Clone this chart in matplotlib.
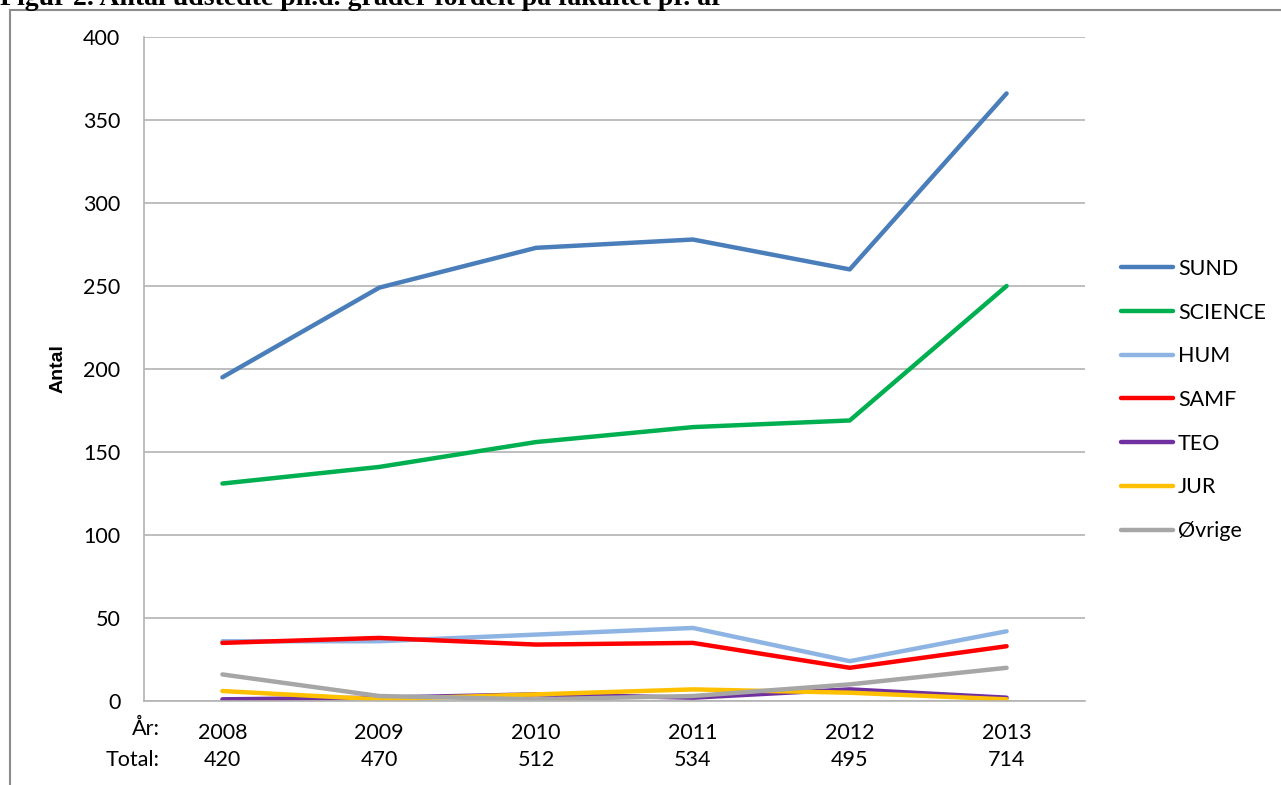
import matplotlib
matplotlib.use("Agg")
import matplotlib.pyplot as plt
from matplotlib.patches import Rectangle
import matplotlib.transforms as mtransforms

years = ["2008", "2009", "2010", "2011", "2012", "2013"]
totals = ["420", "470", "512", "534", "495", "714"]
series_names = ["SUND", "SCIENCE", "HUM", "SAMF", "TEO", "JUR", "Øvrige"]
sund = [195, 249, 273, 278, 260, 366]
science = [131, 141, 156, 165, 169, 250]
hum = [36, 36, 40, 44, 24, 42]
samf = [35, 38, 34, 35, 20, 33]
teo = [1, 2, 4, 2, 7, 2]
jur = [6, 1, 4, 7, 5, 1]
ovrige = [16, 3, 1, 3, 10, 20]
series_values = [sund, science, hum, samf, teo, jur, ovrige]
colors = ["#4a7ebb", "#00b050", "#8eb4e3", "#ff0000", "#7030a0", "#ffc000", "#a6a6a6"]

FONT = ["Lato", "DejaVu Sans"]
plt.rcParams['font.family'] = FONT
FS = 15.5

W, H = 1281, 785
fig = plt.figure(figsize=(W / 100, H / 100), dpi=100)

# outer frame
fig.patches.append(Rectangle((10 / W, -0.05), 1.1, 1 - 10 / H + 0.05,
                             transform=fig.transFigure, fill=False,
                             edgecolor="#8c8c8c", lw=1.5))

# title (cut off at the top edge, as in the source document)
fig.text(0.0, 1 - 5 / H, "Figur 2. Antal udstedte ph.d. grader fordelt på fakultet pr. år",
         family="Liberation Serif", weight="bold", fontsize=20, va="baseline", ha="left")

ax = fig.add_axes([144 / W, 1 - 701 / H, (1085 - 144) / W, (701 - 37) / H])
x = list(range(len(years)))
for name, vals, c in zip(series_names, series_values, colors):
    ax.plot(x, vals, color=c, lw=3.2, label=name, solid_capstyle="round")

ax.set_xlim(-0.5, len(years) - 0.5)
ax.set_ylim(0, 400)
ax.set_yticks(range(0, 401, 50))
ax.yaxis.grid(True, color="#b3b3b3", lw=1.2)
ax.set_axisbelow(True)
for s in ["top", "right"]:
    ax.spines[s].set_visible(False)
for s in ["left", "bottom"]:
    ax.spines[s].set_color("#b3b3b3")
    ax.spines[s].set_linewidth(1.2)
ax.tick_params(axis="both", length=0, labelsize=FS)
ax.tick_params(axis="y", pad=17)
ax.set_xticks(x)
ax.set_xticklabels(years)
ax.tick_params(axis="x", pad=16)
ax.set_ylabel("Antal", fontsize=14, weight="bold", family=["Liberation Sans", "DejaVu Sans"])
ax.yaxis.set_label_coords(-0.082, 0.5)

trans = mtransforms.blended_transform_factory(ax.transData, fig.transFigure)
for xi, t in zip(x, totals):
    ax.text(xi, 1 - 760 / H, t, transform=trans, ha="center", va="center", fontsize=FS)
fig.text(160 / W, 1 - 729 / H, "År:", ha="right", va="center", fontsize=FS)
fig.text(160 / W, 1 - 760 / H, "Total:", ha="right", va="center", fontsize=FS)

fig.legend(loc="center left", bbox_to_anchor=(1121 / W, 1 - 400 / H), frameon=False,
           fontsize=FS, handlelength=2.4, handletextpad=0.25, labelspacing=1.1,
           borderpad=0, borderaxespad=0)

fig.savefig("out.png", dpi=100)
